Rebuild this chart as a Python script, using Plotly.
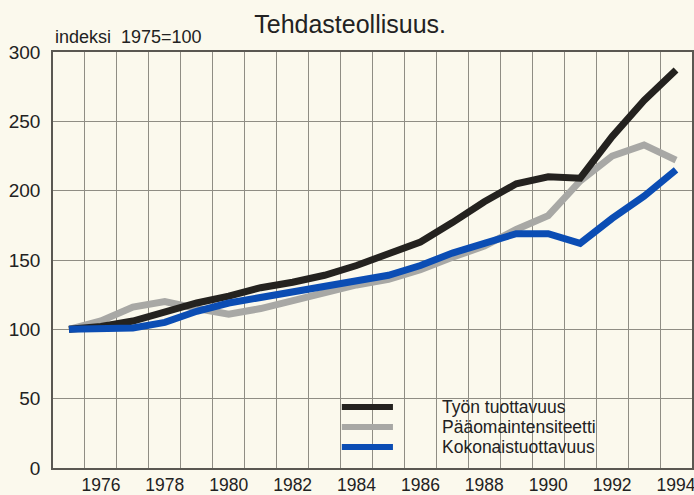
import plotly.graph_objects as go

years = list(range(1975, 1995))
tyon_tuottavuus = [100, 102, 106, 113, 119, 124, 130, 134, 139, 146,
                   154, 163, 177, 192, 205, 210, 209, 239, 265, 287]
paaomaintensiteetti = [100, 106, 116, 120, 115, 111, 115, 121, 127, 132,
                       136, 143, 152, 160, 172, 182, 207, 225, 233, 222]
kokonaistuottavuus = [100, 100, 101, 105, 113, 119, 123, 126, 130, 134,
                      139, 146, 155, 162, 169, 169, 162, 180, 196, 215]

series_names = ["Työn tuottavuus", "Pääomaintensiteetti", "Kokonaistuottavuus"]
series_values = [tyon_tuottavuus, paaomaintensiteetti, kokonaistuottavuus]
series_colors = ["#24221f", "#a8a8a5", "#0b4db4"]
x_tick_labels = [str(y) for y in range(1976, 1995, 2)]
y_tick_values = [0, 50, 100, 150, 200, 250, 300]

title_text = "Tehdasteollisuus."
unit_text = "indeksi  1975=100"

BG = "#fbf9ed"
GRID = "#8f8d84"
FONT = "Liberation Sans, Arial, Helvetica, sans-serif"

fig = go.Figure()
draw_order = [1, 0, 2]
for i in draw_order:
    fig.add_trace(go.Scatter(
        x=years, y=series_values[i], mode="lines", name=series_names[i],
        line=dict(color=series_colors[i], width=7), showlegend=False,
    ))

# legend box (hides grid behind legend)
fig.add_shape(type="rect", xref="paper", yref="paper",
              x0=0.366, x1=0.934, y0=0.031, y1=0.171,
              fillcolor=BG, line=dict(width=0), layer="between")

# manual legend
row_y = [0.1466, 0.0986, 0.0505]
for name, color, yy in zip(series_names, series_colors, row_y):
    fig.add_shape(type="line", xref="paper", yref="paper",
                  x0=0.452, x1=0.532, y0=yy, y1=yy,
                  line=dict(color=color, width=6))
    fig.add_annotation(text=name, xref="paper", yref="paper",
                       x=0.6056, y=yy, xanchor="left", yanchor="middle",
                       showarrow=False, font=dict(size=17.5, color="#222", family=FONT))

fig.add_annotation(text=unit_text, xref="paper", yref="paper", x=0, y=1.035,
                   xanchor="left", yanchor="middle", showarrow=False,
                   font=dict(size=18, color="#222", family=FONT))

fig.update_layout(
    width=694, height=495,
    margin=dict(l=53, r=2, t=52, b=27, autoexpand=False),
    paper_bgcolor=BG, plot_bgcolor=BG,
    title=dict(text=title_text, x=0.465, xref="paper", xanchor="center",
               y=0.952, yref="container", yanchor="middle",
               font=dict(size=25, color="#222", family=FONT)),
    font=dict(family=FONT, color="#222"),
)

fig.update_xaxes(
    range=[1974.5, 1994.5], automargin=False,
    tickmode="array", tickvals=[int(t) for t in x_tick_labels], ticktext=x_tick_labels,
    showgrid=False, ticks="", ticklabelstandoff=0, ticklabeloverflow="allow",
    tickfont=dict(size=17.5, color="#222", family=FONT),
    minor=dict(tick0=1974.5, dtick=1, showgrid=True, gridcolor=GRID, gridwidth=1, ticks=""),
    showline=True, linecolor="#5a5852", linewidth=1.5, mirror=True,
    zeroline=False,
)
fig.update_yaxes(
    range=[0, 300], tickmode="array", tickvals=y_tick_values, automargin=False,
    showgrid=True, gridcolor=GRID, gridwidth=1,
    ticks="", ticklabelstandoff=7,
    tickfont=dict(size=19, color="#222", family=FONT),
    showline=True, linecolor="#5a5852", linewidth=1.5, mirror=True,
    zeroline=False,
)

fig.write_html(
    "out.html",
    config={"displayModeBar": False},
    post_script="document.body.style.margin='0';document.body.style.background='%s';"
                "document.body.style.overflow='hidden';" % BG,
)
